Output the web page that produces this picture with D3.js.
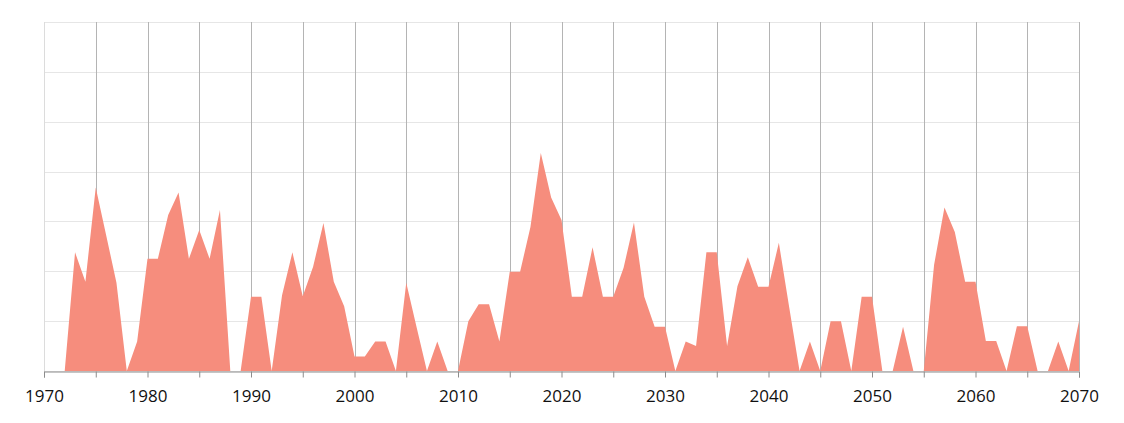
<!DOCTYPE html>
<html>
<head>
<meta charset="utf-8">
<script src="https://cdn.jsdelivr.net/npm/d3@7"></script>
<style>
  body { margin: 0; background: #fff; }
  svg { display: block; }
</style>
</head>
<body>
<svg id="chart" width="1124" height="423"></svg>
<script>
// one value per year, 1970..2070
var years = d3.range(1970, 2071);
var values = [
  0, 0, 0, 23.8, 17.9, 36.8, 27.3, 17.7, 0, 5.9,          // 1970s
  22.5, 22.5, 31.3, 35.8, 22.5, 28.3, 22.5, 32.3, 0, 0,  // 1980s
  14.9, 14.9, 0, 15.2, 23.8, 15.0, 20.9, 29.7, 17.9, 13.0, // 1990s
  2.9, 2.9, 5.9, 5.9, 0, 17.7, 8.8, 0, 5.9, 0,           // 2000s
  0, 10.0, 13.4, 13.4, 5.9, 19.9, 19.9, 28.9, 43.7, 34.8, // 2010s
  30.3, 14.9, 14.9, 24.8, 14.9, 14.9, 20.7, 29.8, 14.9, 8.9, // 2020s
  8.9, 0, 5.9, 5.0, 23.8, 23.8, 5.0, 17.0, 22.8, 16.9,   // 2030s
  16.9, 25.7, 12.8, 0, 5.9, 0, 10.0, 10.0, 0, 14.9,      // 2040s
  14.9, 0, 0, 8.9, 0, 0, 21.3, 32.8, 27.9, 17.9,         // 2050s
  17.9, 6.0, 6.0, 0, 9.0, 9.0, 0, 0, 5.9, 0,             // 2060s
  10.0                                                    // 2070
];
var yTicks = d3.range(0, 71, 10);
var xTickLabels = d3.range(1970, 2071, 10);

var data = years.map(function(y, i) { return { year: y, value: values[i] }; });

var margin = { top: 22, right: 45, bottom: 52, left: 44 };
var width = 1124 - margin.left - margin.right;
var height = 423 - margin.top - margin.bottom;

var svg = d3.select("#chart");
var g = svg.append("g").attr("transform", "translate(" + margin.left + "," + margin.top + ")");

var x = d3.scaleLinear().domain([1970, 2070]).range([0, width]);
var y = d3.scaleLinear().domain([0, 70]).range([height, 0]);

// horizontal grid
g.append("g").selectAll("line")
  .data(yTicks)
  .enter().append("line")
  .attr("x1", 0).attr("x2", width)
  .attr("y1", function(d) { return Math.round(y(d)) + 0.5; })
  .attr("y2", function(d) { return Math.round(y(d)) + 0.5; })
  .style("stroke", "#e6e6e6")
  .style("stroke-width", 1);

// vertical grid every 5 years
g.append("g").selectAll("line")
  .data(d3.range(1970, 2071, 5))
  .enter().append("line")
  .attr("x1", function(d) { return Math.round(x(d)) + 0.5; })
  .attr("x2", function(d) { return Math.round(x(d)) + 0.5; })
  .attr("y1", 0).attr("y2", height)
  .style("stroke", function(d) { return d == 1970 ? "#dcdcdc" : "#b4b4b4"; })
  .style("stroke-width", 1);

// area
var area = d3.area()
  .x(function(d) { return x(d.year); })
  .y0(y(0))
  .y1(function(d) { return y(d.value); });

g.append("path")
  .datum(data)
  .attr("d", area)
  .style("fill", "#f68d7d");

// x axis
var xAxis = d3.axisBottom(x)
  .tickValues(d3.range(1970, 2071, 5))
  .tickSize(6)
  .tickFormat(function(d) { return xTickLabels.includes(d) ? d : ""; });

var ax = g.append("g")
  .attr("transform", "translate(0," + (height + 0.5) + ")")
  .call(xAxis);

ax.select(".domain").style("stroke", "#8c8c8c");
ax.selectAll(".tick line").style("stroke", "#8c8c8c");
ax.selectAll(".tick text")
  .attr("dy", 0)
  .attr("y", 30)
  .style("font-family", "'Open Sans', sans-serif")
  .style("font-size", "17px")
  .style("fill", "#111");
</script>
</body>
</html>
